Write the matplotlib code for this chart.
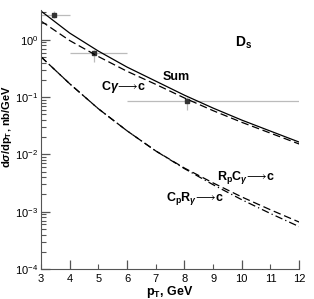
import matplotlib
matplotlib.use('Agg')
import matplotlib.pyplot as plt
from matplotlib.ticker import FixedLocator, NullFormatter, LogLocator, FormatStrFormatter

plt.rcParams['font.family'] = ['Liberation Sans', 'DejaVu Sans']
plt.rcParams['mathtext.fontset'] = 'custom'
plt.rcParams['mathtext.rm'] = 'Liberation Sans:bold'
plt.rcParams['mathtext.it'] = 'Liberation Sans:italic:bold'
plt.rcParams['mathtext.bf'] = 'Liberation Sans:bold'

# curves
pt = [3, 4, 5, 6, 7, 8, 9, 10, 11, 12]
total = [3.17, 1.31, 0.635, 0.334, 0.190, 0.108, 0.0643, 0.0397, 0.0255, 0.0164]
c_gamma = [2.12, 0.97, 0.51, 0.282, 0.167, 0.0966, 0.058, 0.0363, 0.0235, 0.0152]
rp_cg = [0.505, 0.171, 0.0626, 0.0258, 0.0115, 0.00578, 0.00318, 0.00181, 0.00108, 0.00066]
cp_rg = [0.505, 0.171, 0.0626, 0.0258, 0.0115, 0.00565, 0.00296, 0.00162, 0.00093, 0.00055]

# data points
dx = [3.45, 4.85, 8.09]
dy = [2.7, 0.586, 0.085]
dx_lo = [3.0, 4.0, 6.0]
dx_hi = [4.0, 6.0, 12.0]
dy_lo = [2.4, 0.41, 0.059]
dy_hi = [3.17, 0.66, 0.10]

fig = plt.figure(figsize=(3.14, 2.99), dpi=100)
ax = fig.add_axes([0.1306, 0.1003, 0.822, 0.866])

xerr = [[x - lo for x, lo in zip(dx, dx_lo)], [hi - x for x, hi in zip(dx, dx_hi)]]
yerr = [[y - lo for y, lo in zip(dy, dy_lo)], [hi - y for y, hi in zip(dy, dy_hi)]]
ax.errorbar(dx, dy, xerr=xerr, yerr=yerr, fmt='none', ecolor='#bbbbbb', elinewidth=0.9, capsize=0)
ax.plot(dx, dy, 's', color='#333333', ms=2.2)

ax.plot(pt, total, '-', color='black', lw=0.9)
ax.plot(pt, c_gamma, color='black', lw=0.9, ls=(0, (6, 3)))
ax.plot(pt, rp_cg, color='black', lw=0.9, ls=(0, (6, 3)))
ax.plot(pt, cp_rg, color='black', lw=0.9, ls=(0, (6, 2.5, 1, 2.5)))

ax.set_yscale('log')
ax.set_xlim(3, 12)
ax.set_ylim(1e-4, 3.3)

ax.spines['top'].set_visible(False)
ax.spines['right'].set_visible(False)
ax.spines['left'].set_color('#555555')
ax.spines['bottom'].set_color('#555555')

ax.xaxis.set_major_locator(FixedLocator([4, 6, 8, 10, 12]))
ax.xaxis.set_minor_locator(FixedLocator([3, 5, 7, 9, 11]))
ax.xaxis.set_major_formatter(FormatStrFormatter('%d'))
ax.xaxis.set_minor_formatter(FormatStrFormatter('%d'))
ax.yaxis.set_major_locator(LogLocator(base=10, numticks=10))
ax.yaxis.set_minor_locator(LogLocator(base=10, subs=range(2, 10), numticks=20))
ax.yaxis.set_minor_formatter(NullFormatter())
ax.tick_params(which='both', direction='in', labelsize=8, color='#555555')
ax.tick_params(which='major', length=6.5, width=0.9)
ax.tick_params(which='minor', length=3.5, width=0.8)
ax.tick_params(axis='x', which='minor', length=3.5, labelsize=8)
ax.tick_params(axis='y', which='major', pad=2)

ax.set_xlabel(r'p$_\mathregular{T}$, GeV', fontsize=9, fontweight='bold')
ax.set_ylabel(r'd$\sigma$/dp$_\mathregular{T}$, nb/GeV', fontsize=8, fontweight='bold')
ax.xaxis.set_label_coords(0.5, -0.089)
ax.yaxis.set_label_coords(-0.13, 0.552)
ax.xaxis.label.set_va('center')
ax.yaxis.label.set_va('center')

ax.text(7.71, 0.223, 'Sum', fontsize=9, fontweight='bold', ha='center', va='center')
ax.text(5.86, 0.149, r'C$\gamma\!\longrightarrow\!$c', fontsize=9, fontweight='bold', ha='center', va='center')
ax.text(9.75, 0.876, r'D$_\mathregular{s}$', fontsize=10, fontweight='bold', ha='left', va='center')
ax.text(10.15, 0.004, r'R$_\mathregular{p}$C$_\gamma\!\longrightarrow\!$c', fontsize=9, fontweight='bold', ha='center', va='center')
ax.text(8.37, 0.00168, r'C$_\mathregular{p}$R$_\gamma\!\longrightarrow\!$c', fontsize=9, fontweight='bold', ha='center', va='center')

fig.savefig('out.png', dpi=100)
